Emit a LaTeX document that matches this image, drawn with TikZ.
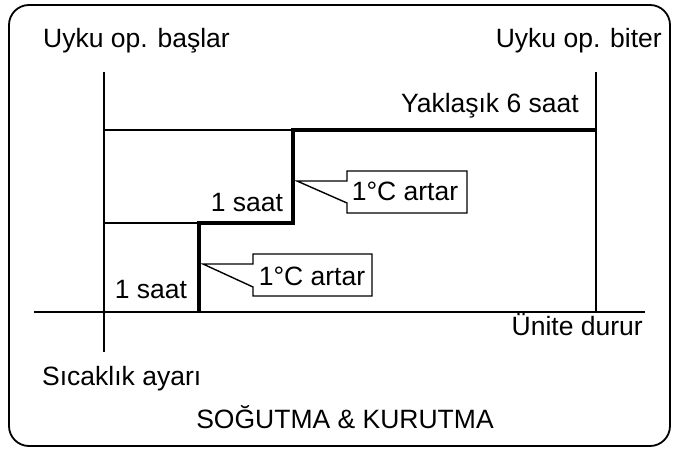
\documentclass[tikz,border=0pt]{standalone}
\usepackage{fontspec}
\setmainfont{Liberation Sans}
\begin{document}
\begin{tikzpicture}[x=1pt,y=-1pt,
  thin line/.style={line width=1.4pt},
  thick line/.style={line width=4pt},
  lbl/.style={font=\fontsize{26.5}{28}\selectfont, inner sep=0pt},
  callout/.style={line width=1.4pt, line join=miter, fill=white}]
\useasboundingbox (0,0) rectangle (673,450);
\draw[line width=1.8pt, rounded corners=20pt] (9,5) rectangle (670,446);
% axes
\coordinate (L0) at (104,72);
\coordinate (L1) at (104,352);
\coordinate (R0) at (596,72);
\coordinate (R1) at (596,312);
\coordinate (A0) at (34,312);
\coordinate (A1) at (645,312);
\draw[thin line] (L0) -- (L1);
\draw[thin line] (R0) -- (R1);
\draw[thin line] (A0) -- (A1);
\coordinate (H1a) at (104,130);
\coordinate (H1b) at (293,130);
\coordinate (H2a) at (104,223);
\coordinate (H2b) at (199,223);
\draw[thin line] (H1a) -- (H1b);
\draw[thin line] (H2a) -- (H2b);
% step
\coordinate (S0) at (199,312);
\coordinate (S1) at (199,223);
\coordinate (S2) at (293,223);
\coordinate (S3) at (293,130);
\coordinate (S4) at (596,130);
\draw[thick line, line join=miter] (S0) -- (S1) -- (S2) -- (S3) -- (S4);
% callouts
\coordinate (T1) at (297,181);
\draw[callout] (347,171) -- (467,171) -- (467,213) -- (347,213) -- (347,203) -- (T1) -- (347,181) -- cycle;
\node[lbl, anchor=base] (c1) at (405,200) {1°C artar};
\coordinate (T2) at (203,264);
\draw[callout] (253,254) -- (372,254) -- (372,296) -- (253,296) -- (253,287) -- (T2) -- (253,264) -- cycle;
\node[lbl, anchor=base] (c2) at (312,285) {1°C artar};
% labels
\node[lbl, anchor=base west] (start) at (43,47) {Uyku op. başlar};
\node[lbl, anchor=base east] (end) at (662,47) {Uyku op. biter};
\node[lbl, anchor=base east] (six) at (579,112) {Yaklaşık 6 saat};
\node[lbl, anchor=base] (h2) at (247,211) {1 saat};
\node[lbl, anchor=base] (h1) at (151,298) {1 saat};
\node[lbl, anchor=base east] (stop) at (643,335) {Ünite durur};
\node[lbl, anchor=base west] (temp) at (42,385) {Sıcaklık ayarı};
\node[lbl, anchor=base] (title) at (345,428) {SOĞUTMA \& KURUTMA};
\end{tikzpicture}
\end{document}
